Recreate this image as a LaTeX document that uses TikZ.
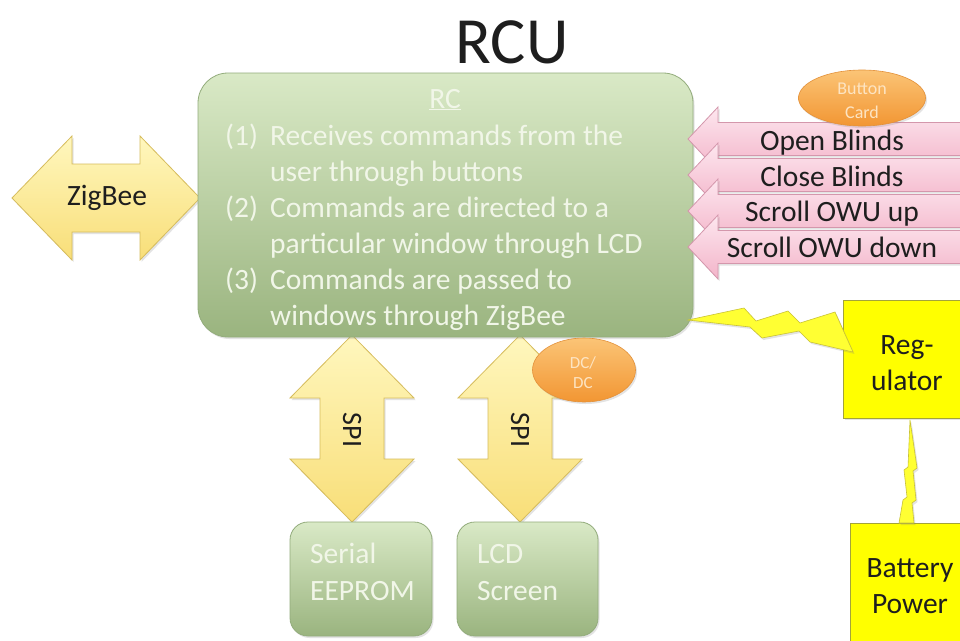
\documentclass[tikz,border=0pt]{standalone}
\usepackage{fontspec}
\setmainfont{Carlito}
\usetikzlibrary{shapes.geometric,shadows}
\definecolor{gtop}{HTML}{D9E9C6}
\definecolor{gbot}{HTML}{9AB47F}
\definecolor{gline}{HTML}{93AC7C}
\definecolor{gtext}{HTML}{F1F6E8}
\definecolor{ytop}{HTML}{FFF7BE}
\definecolor{ybot}{HTML}{F8DE78}
\definecolor{yline}{HTML}{D6BC5C}
\definecolor{ptop}{HTML}{FDE7EF}
\definecolor{pbot}{HTML}{F3B4C9}
\definecolor{pline}{HTML}{D497AC}
\definecolor{otop}{HTML}{FBC476}
\definecolor{obot}{HTML}{F29633}
\definecolor{oline}{HTML}{E3913A}
\definecolor{otext}{HTML}{FDE4C2}
\definecolor{pwr}{HTML}{FFFF00}
\definecolor{pwrline}{HTML}{A3A33A}
\definecolor{bolt}{HTML}{FFFF33}
\definecolor{boltline}{HTML}{C9C236}
\definecolor{ink}{HTML}{1E1E1E}
\tikzset{
  shd/.style={drop shadow={opacity=0.22,shadow xshift=1.5pt,shadow yshift=-2pt}},
  gbox/.style={draw=gline, line width=0.8pt, top color=gtop, bottom color=gbot, rounded corners=#1, shd, inner sep=0},
  yarrow/.style={draw=yline, line width=0.8pt, top color=ytop, bottom color=ybot, shd},
  parrow/.style={draw=pline, line width=0.8pt, top color=ptop, bottom color=pbot, shd},
  oell/.style={ellipse, draw=oline, line width=0.6pt, top color=otop, bottom color=obot, shd, inner sep=0},
  pbox/.style={draw=pwrline, line width=0.8pt, fill=pwr, shd, inner sep=0},
  boltstyle/.style={draw=boltline, line width=0.6pt, fill=bolt, shd},
  body/.style={font=\fontsize{29.5}{36}\selectfont, inner sep=0},
  wtext/.style={body, text=gtext},
  btext/.style={body, text=ink},
  small/.style={font=\fontsize{18}{24}\selectfont, text=otext, inner sep=0, align=center},
}
\begin{document}
\begin{tikzpicture}[x=1pt,y=-1pt]
\clip (0,0) rectangle (960,640);
\fill[white] (0,0) rectangle (960,640);

% title
\node[font=\fontsize{66}{70}\selectfont, text=ink, inner sep=0, anchor=base] (title) at (512,63) {RCU};

% SPI double arrows (behind boxes)
\begin{scope}[shift={(352,0)}]
\path[yarrow] (0,335) -- (62,398) -- (32,398) -- (32,459) -- (62,459) -- (0,522)
  -- (-62,459) -- (-32,459) -- (-32,398) -- (-62,398) -- cycle;
\end{scope}
\begin{scope}[shift={(520,0)}]
\path[yarrow] (0,335) -- (62,398) -- (32,398) -- (32,459) -- (62,459) -- (0,522)
  -- (-62,459) -- (-32,459) -- (-32,398) -- (-62,398) -- cycle;
\end{scope}
\node[btext, font=\fontsize{28}{30}\selectfont, rotate=-90] (spi1) at (352,430) {SPI};
\node[btext, font=\fontsize{28}{30}\selectfont, rotate=-90] (spi2) at (520,430) {SPI};

% ZigBee double arrow
\path[yarrow] (12,198) -- (72,136) -- (72,164) -- (140,164) -- (140,136) -- (200,198)
  -- (140,260) -- (140,232) -- (72,232) -- (72,260) -- cycle;
\node[btext, anchor=base] (zig) at (107,205) {ZigBee};

% RC box
\node[gbox=30, minimum width=495, minimum height=264] (rc) at (445.5,205) {};
\node[wtext, anchor=base] (rct) at (445,108) {\underline{RC}};
\node[wtext, anchor=base west] (n1) at (225,145) {(1)};
\node[wtext, anchor=base west] (l1) at (270,145) {Receives commands from the};
\node[wtext, anchor=base west] (l2) at (270,181) {user through buttons};
\node[wtext, anchor=base west] (n2) at (225,217) {(2)};
\node[wtext, anchor=base west] (l3) at (270,217) {Commands are directed to a};
\node[wtext, anchor=base west] (l4) at (270,253) {particular window through LCD};
\node[wtext, anchor=base west] (n3) at (225,289) {(3)};
\node[wtext, anchor=base west] (l5) at (270,289) {Commands are passed to};
\node[wtext, anchor=base west] (l6) at (270,325) {windows through ZigBee};

% memory / screen boxes
\node[gbox=18, minimum width=142, minimum height=114] (eeprom) at (361,579) {};
\node[wtext, anchor=base west] (ee1) at (310,563) {Serial};
\node[wtext, anchor=base west] (ee2) at (310,600) {EEPROM};
\node[gbox=18, minimum width=141, minimum height=114] (lcd) at (527.5,579) {};
\node[wtext, anchor=base west] (lc1) at (477,563) {LCD};
\node[wtext, anchor=base west] (lc2) at (477,600) {Screen};

% pink command arrows
\foreach \c/\t/\b [count=\i] in {139/Open Blinds/150, 175/Close Blinds/186, 211/Scroll OWU up/221, 247/Scroll OWU down/257}{
  \path[parrow] (688,\c) -- (718,\c-32) -- (718,\c-16.5) -- (966,\c-16.5)
    -- (966,\c+16.5) -- (718,\c+16.5) -- (718,\c+32) -- cycle;
  \node[btext, anchor=base] (cmd\i) at (832,\b) {\t};
}

% Button card
\node[oell, minimum width=127, minimum height=56] (card) at (862,98) {};
\node[small, anchor=base] (card1) at (862,94) {Button};
\node[small, anchor=base] (card2) at (862,118) {Card};

% DC/DC
\node[oell, minimum width=103, minimum height=64] (dcdc) at (584,370) {};
\node[small, font=\fontsize{17}{22}\selectfont, anchor=base] (dc1) at (583,368) {DC/};
\node[small, font=\fontsize{17}{22}\selectfont, anchor=base] (dc2) at (583,388) {DC};

% power boxes
\node[pbox, minimum width=130, minimum height=118] (reg) at (908,359) {};
\node[btext, anchor=base] (reg1) at (907,354) {Reg-};
\node[btext, anchor=base] (reg2) at (907,390) {ulator};
\node[pbox, minimum width=126, minimum height=130] (bat) at (913,588) {};
\node[btext, anchor=base] (bat1) at (910,577) {Battery};
\node[btext, anchor=base] (bat2) at (910,613) {Power};

% lightning bolts
\path[boltstyle] (688,320) -- (744,308) -- (756,321) -- (788,311) -- (800,323) -- (835,312)
  -- (853,352) -- (810,342) -- (799,331) -- (762,338) -- (750,327) -- cycle;
\path[boltstyle] (910,420) -- (917,468) -- (913,471) -- (916,500) -- (912,503) -- (914,523)
  -- (899,523) -- (903,500) -- (907,497) -- (904,470) -- (908,467) -- cycle;
\end{tikzpicture}
\end{document}
